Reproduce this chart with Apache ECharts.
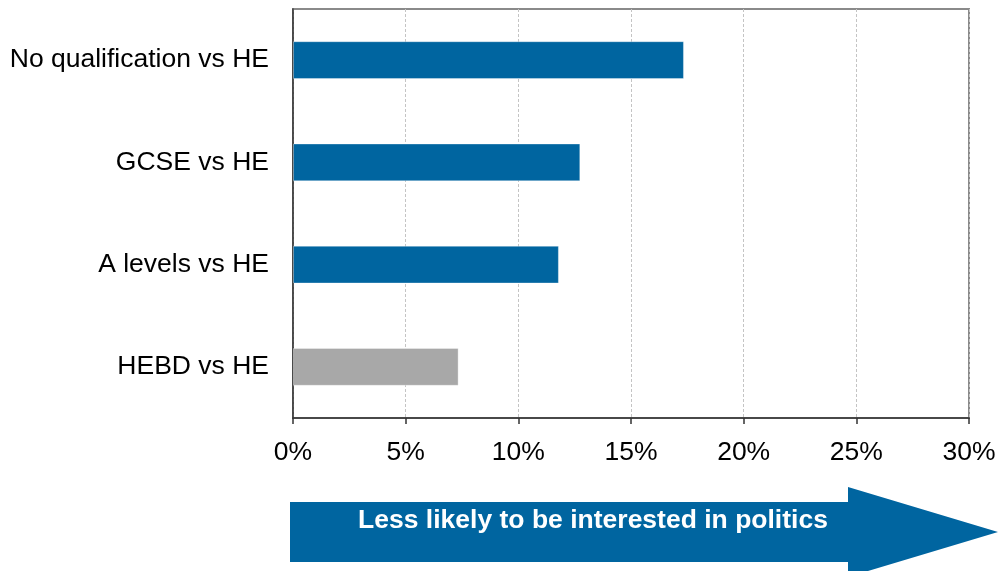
<!DOCTYPE html>
<html>
<head>
<meta charset="utf-8">
<script src="https://cdn.jsdelivr.net/npm/echarts@6/dist/echarts.min.js"></script>
<style>
  html, body { margin: 0; padding: 0; background: #fff; }
  #chart { width: 1000px; height: 571px; }
</style>
</head>
<body>
<div id="chart"></div>
<script>
// Gap in political interest relative to HE graduates
const categories = ['No qualification vs HE', 'GCSE vs HE', 'A levels vs HE', 'HEBD vs HE'];
const values = [17.35, 12.75, 11.8, 7.35];
const xTicks = [0, 5, 10, 15, 20, 25, 30];
const arrowText = 'Less likely to be interested in politics';

const FONT = '"Liberation Sans", Arial, sans-serif';
const BLUE = '#0065a0';
const GREY = '#a8a8a8';

const chart = echarts.init(document.getElementById('chart'), null, { renderer: 'canvas' });

chart.setOption({
  animation: false,
  backgroundColor: '#ffffff',
  grid: {
    left: 293, right: 31, top: 9, bottom: 153,
    show: true,
    borderColor: '#8a8a8a',
    borderWidth: 2,
    containLabel: false
  },
  xAxis: {
    type: 'value',
    min: xTicks[0],
    max: xTicks[xTicks.length - 1],
    interval: 5,
    axisLine: { show: true, lineStyle: { color: '#333', width: 1.5 } },
    axisTick: { show: true, length: 6, lineStyle: { color: '#333', width: 1.5 } },
    axisLabel: {
      formatter: '{value}%',
      fontFamily: FONT, fontSize: 26.5, color: '#000', margin: 21
    },
    splitLine: { show: true, lineStyle: { color: '#c4c4c4', type: [3, 2], width: 1 } }
  },
  yAxis: {
    type: 'category',
    data: categories,
    inverse: true,
    axisLine: { show: true, lineStyle: { color: '#333', width: 1.5 } },
    axisTick: { show: false },
    axisLabel: { fontFamily: FONT, fontSize: 26.5, color: '#000', margin: 24 },
    splitLine: { show: false }
  },
  series: [{
    type: 'bar',
    data: values,
    barWidth: '37%',
    itemStyle: {
      color: p => (p.dataIndex === categories.length - 1 ? GREY : BLUE),
      borderColor: 'rgba(255,255,255,0.35)',
      borderWidth: 1
    }
  }],
  graphic: [{
    type: 'group',
    children: [{
      type: 'polygon',
      shape: {
        points: [
          [290, 502], [848, 502], [848, 487], [998, 532],
          [848, 577], [848, 562], [290, 562]
        ]
      },
      style: { fill: BLUE }
    }, {
      type: 'text',
      style: {
        text: arrowText,
        x: 593, y: 521,
        align: 'center', verticalAlign: 'middle',
        fill: '#ffffff',
        font: 'bold 26.5px ' + FONT
      }
    }]
  }]
});
</script>
</body>
</html>
